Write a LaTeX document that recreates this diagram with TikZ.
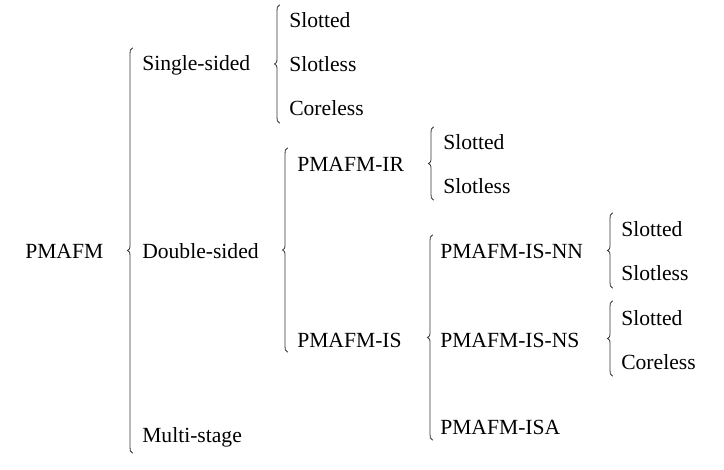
\documentclass[tikz,border=0pt]{standalone}
\usepackage{fontspec}
\setmainfont{Liberation Serif}
\usepackage{tikz}

% thin brace: x, top, bottom (pixel units, y downwards)
\newcommand{\treebrace}[3]{%
  \draw[brace] ({#1+2.5},#2) .. controls (#1,{#2+1}) and (#1,{#2+3}) .. (#1,{#2+6})
    -- (#1,{(#2+#3)/2-5}) .. controls (#1,{(#2+#3)/2-1.5}) and ({#1-1},{(#2+#3)/2-0.5}) .. ({#1-2.5},{(#2+#3)/2})
    .. controls ({#1-1},{(#2+#3)/2+0.5}) and (#1,{(#2+#3)/2+1.5}) .. (#1,{(#2+#3)/2+5})
    -- (#1,{#3-6}) .. controls (#1,{#3-3}) and (#1,{#3-1}) .. ({#1+2.5},#3);}

\begin{document}
\begin{tikzpicture}[
  x=0.75pt, y=-0.75pt,
  item/.style={anchor=base west, inner sep=0pt, font=\fontsize{16.2}{19}\selectfont},
  brace/.style={line width=0.6pt, black!80, line cap=round}
]
\useasboundingbox (0,0) rectangle (724,470);

% Level 0
\node[item] (root) at (25,258) {PMAFM};

% Level 1
\node[item] (single) at (142,71) {Single-sided};
\node[item] (double) at (142,258) {Double-sided};
\node[item] (multi)  at (142,442) {Multi-stage};

% Level 2
\node[item] (sgl1) at (289,28)  {Slotted};
\node[item] (sgl2) at (289,72)  {Slotless};
\node[item] (sgl3) at (289,116) {Coreless};
\node[item] (ir) at (297,172) {PMAFM-IR};
\node[item] (is) at (297,347) {PMAFM-IS};

% Level 3
\node[item] (ir1) at (443,150) {Slotted};
\node[item] (ir2) at (443,194) {Slotless};
\node[item] (nn)  at (440,258) {PMAFM-IS-NN};
\node[item] (ns)  at (440,347) {PMAFM-IS-NS};
\node[item] (isa) at (440,434) {PMAFM-ISA};

% Level 4
\node[item] (nn1) at (621,237) {Slotted};
\node[item] (nn2) at (621,281) {Slotless};
\node[item] (ns1) at (621,325) {Slotted};
\node[item] (ns2) at (621,369) {Coreless};

% Braces
\treebrace{130}{48}{453}
\treebrace{277}{5}{123}
\treebrace{285}{148}{352}
\treebrace{431}{127}{200}
\treebrace{430}{235}{440}
\treebrace{610}{213}{288}
\treebrace{610}{301}{376}

\end{tikzpicture}
\end{document}
